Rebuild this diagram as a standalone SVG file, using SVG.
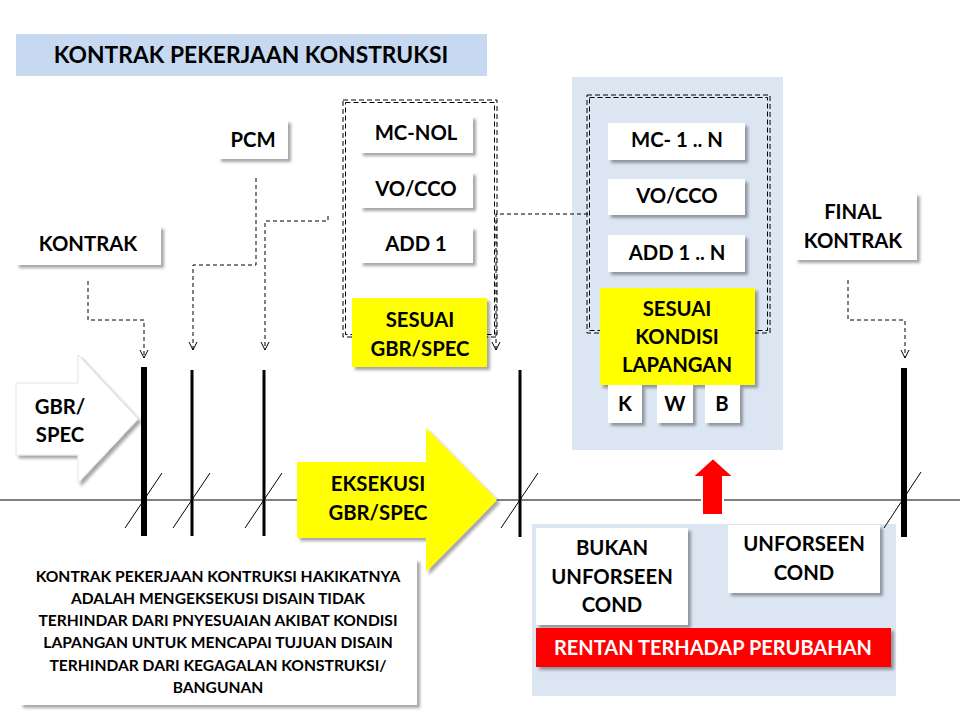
<svg xmlns="http://www.w3.org/2000/svg" width="960" height="720" viewBox="0 0 960 720">
<style>
text{font-family:Lato,"Open Sans","Liberation Sans",sans-serif;font-weight:bold;fill:#000;text-anchor:middle}
.lbl{font-size:20.3px}
.small{font-size:15.6px}
.box{fill:#fff;filter:url(#sh)}
.yel{fill:#ffff00;filter:url(#sh)}
.grp{fill:none;stroke:#000;stroke-width:1;stroke-dasharray:5 3}
.con{fill:none;stroke:#000;stroke-width:1;stroke-dasharray:4 3}
.bar{stroke:#000}
.sl{stroke:#000;stroke-width:1}
</style>
<defs>
<filter id="sh" x="-20%" y="-20%" width="140%" height="150%">
<feDropShadow dx="3" dy="3" stdDeviation="1.8" flood-color="#000" flood-opacity="0.35"/>
</filter>
<marker id="ah" markerUnits="userSpaceOnUse" markerWidth="12" markerHeight="12" refX="9" refY="5" orient="auto">
<path d="M1,1 L9,5 L1,9" fill="none" stroke="#000" stroke-width="1"/>
</marker>
</defs>
<rect width="960" height="720" fill="#fff"/>

<g id="title">
<rect x="16" y="34" width="471" height="42" fill="#c6d9f1"/>
<text x="251" y="63" style="font-size:22.8px">KONTRAK PEKERJAAN KONSTRUKSI</text>
</g>

<g id="panel-right"><rect x="572" y="77" width="211" height="373" fill="#dce6f2"/></g>
<g id="panel-bottom"><rect x="532" y="524" width="364" height="172" fill="#dce6f2"/></g>

<g id="timeline">
<line x1="0" y1="500" x2="960" y2="500" stroke="#000" stroke-width="1"/>
<line class="bar" x1="144" y1="367" x2="144" y2="536" stroke-width="6"/>
<line class="bar" x1="192" y1="370" x2="192" y2="536" stroke-width="3"/>
<line class="bar" x1="264" y1="370" x2="264" y2="536" stroke-width="3"/>
<line class="bar" x1="520" y1="370" x2="520" y2="537" stroke-width="3"/>
<line class="bar" x1="904" y1="368" x2="904" y2="537" stroke-width="6"/>
<line class="sl" x1="125" y1="528" x2="162" y2="473"/>
<line class="sl" x1="173" y1="528" x2="210" y2="473"/>
<line class="sl" x1="245" y1="528" x2="282" y2="473"/>
<line class="sl" x1="501" y1="528" x2="538" y2="473"/>
<line class="sl" x1="884" y1="528" x2="921" y2="472"/>
</g>

<g id="group1">
<rect class="grp" x="343" y="100" width="154" height="237"/>
<rect class="grp" x="345.5" y="102.5" width="149" height="232"/>
</g>
<g id="group2">
<rect class="grp" x="587" y="95" width="183" height="238"/>
<rect class="grp" x="589.5" y="97.5" width="178" height="233"/>
</g>

<g id="connectors">
<path class="con" d="M88,281 V320 H144 V358" marker-end="url(#ah)"/>
<path class="con" d="M256,178 V265 H193 V350" marker-end="url(#ah)"/>
<path class="con" d="M328,216 V221 H265 V350" marker-end="url(#ah)"/>
<path class="con" d="M588,214 H496 V350" marker-end="url(#ah)"/>
<path class="con" d="M848,280 V320 H905 V358" marker-end="url(#ah)"/>
</g>

<g id="pcm"><rect class="box" x="218" y="120" width="70" height="39"/><text class="lbl" x="253" y="147">PCM</text></g>
<g id="kontrak"><rect class="box" x="16" y="226" width="145" height="39"/><text class="lbl" x="88" y="251">KONTRAK</text></g>

<g id="mc-nol"><rect class="box" x="360" y="116" width="113" height="37"/><text class="lbl" x="416" y="140">MC-NOL</text></g>
<g id="vo-cco-1"><rect class="box" x="360" y="172" width="113" height="36"/><text class="lbl" x="416" y="196">VO/CCO</text></g>
<g id="add1"><rect class="box" x="360" y="227" width="113" height="36"/><text class="lbl" x="416" y="251">ADD 1</text></g>
<g id="sesuai-gbr"><rect class="yel" x="352" y="298" width="135" height="69"/><text class="lbl" x="420" y="327">SESUAI</text><text class="lbl" x="420" y="356">GBR/SPEC</text></g>

<g id="mc-1n"><rect class="box" x="608" y="123" width="137" height="37"/><text class="lbl" x="677" y="147">MC- 1 .. N</text></g>
<g id="vo-cco-2"><rect class="box" x="608" y="179" width="137" height="36"/><text class="lbl" x="677" y="203">VO/CCO</text></g>
<g id="add-1n"><rect class="box" x="608" y="235" width="137" height="37"/><text class="lbl" x="677" y="260">ADD 1 .. N</text></g>
<g id="sesuai-kondisi"><rect class="yel" x="600" y="288" width="155" height="97"/><text class="lbl" x="677" y="316">SESUAI</text><text class="lbl" x="677" y="344">KONDISI</text><text class="lbl" x="677" y="372">LAPANGAN</text></g>
<g id="k"><rect class="box" x="608" y="385" width="34" height="38"/><text class="lbl" x="625" y="411">K</text></g>
<g id="w"><rect class="box" x="657" y="385" width="36" height="38"/><text class="lbl" x="675" y="411">W</text></g>
<g id="b"><rect class="box" x="705" y="385" width="35" height="38"/><text class="lbl" x="722" y="411">B</text></g>

<g id="final-kontrak"><rect class="box" x="795" y="193" width="122" height="67"/><text class="lbl" x="853" y="219">FINAL</text><text class="lbl" x="853" y="248">KONTRAK</text></g>

<g id="gbr-spec-arrow">
<path d="M16,383 H78 V355 L138,419 L78,483 V455 H16 Z" fill="#fff" stroke="#e4e4e4" stroke-width="1" filter="url(#sh)"/>
<text class="lbl" x="60" y="414">GBR/</text><text class="lbl" x="60" y="442">SPEC</text>
</g>

<g id="eksekusi-arrow">
<path d="M297,462 H426 V428 L497,500 L426,572 V538 H297 Z" fill="#ffff00" filter="url(#sh)"/>
<text class="lbl" x="378" y="491">EKSEKUSI</text><text class="lbl" x="378" y="520">GBR/SPEC</text>
</g>

<g id="red-arrow">
<path d="M702,515 V477 H692 L713,458 L734,477 H723 V515 Z" fill="#ff0000" stroke="#fff" stroke-width="2"/>
</g>

<g id="bukan-unforseen"><rect class="box" x="536" y="528" width="152" height="97"/><text class="lbl" x="612" y="555">BUKAN</text><text class="lbl" x="612" y="584">UNFORSEEN</text><text class="lbl" x="612" y="612">COND</text></g>
<g id="unforseen"><rect class="box" x="728" y="525" width="152" height="68"/><text class="lbl" x="804" y="551">UNFORSEEN</text><text class="lbl" x="804" y="580">COND</text></g>
<g id="rentan"><rect x="536" y="628" width="355" height="39" fill="#ff0000" filter="url(#sh)"/><text x="713" y="655" style="font-size:20.5px;fill:#fff" textLength="318" lengthAdjust="spacingAndGlyphs">RENTAN TERHADAP PERUBAHAN</text></g>

<g id="note">
<rect class="box" x="20" y="559" width="397" height="146"/>
<text class="small" x="218" y="582">KONTRAK PEKERJAAN KONTRUKSI HAKIKATNYA</text>
<text class="small" x="218" y="604">ADALAH MENGEKSEKUSI DISAIN TIDAK</text>
<text class="small" x="218" y="626">TERHINDAR DARI PNYESUAIAN AKIBAT KONDISI</text>
<text class="small" x="218" y="648">LAPANGAN UNTUK MENCAPAI TUJUAN DISAIN</text>
<text class="small" x="218" y="671">TERHINDAR DARI KEGAGALAN KONSTRUKSI/</text>
<text class="small" x="218" y="693">BANGUNAN</text>
</g>
</svg>
